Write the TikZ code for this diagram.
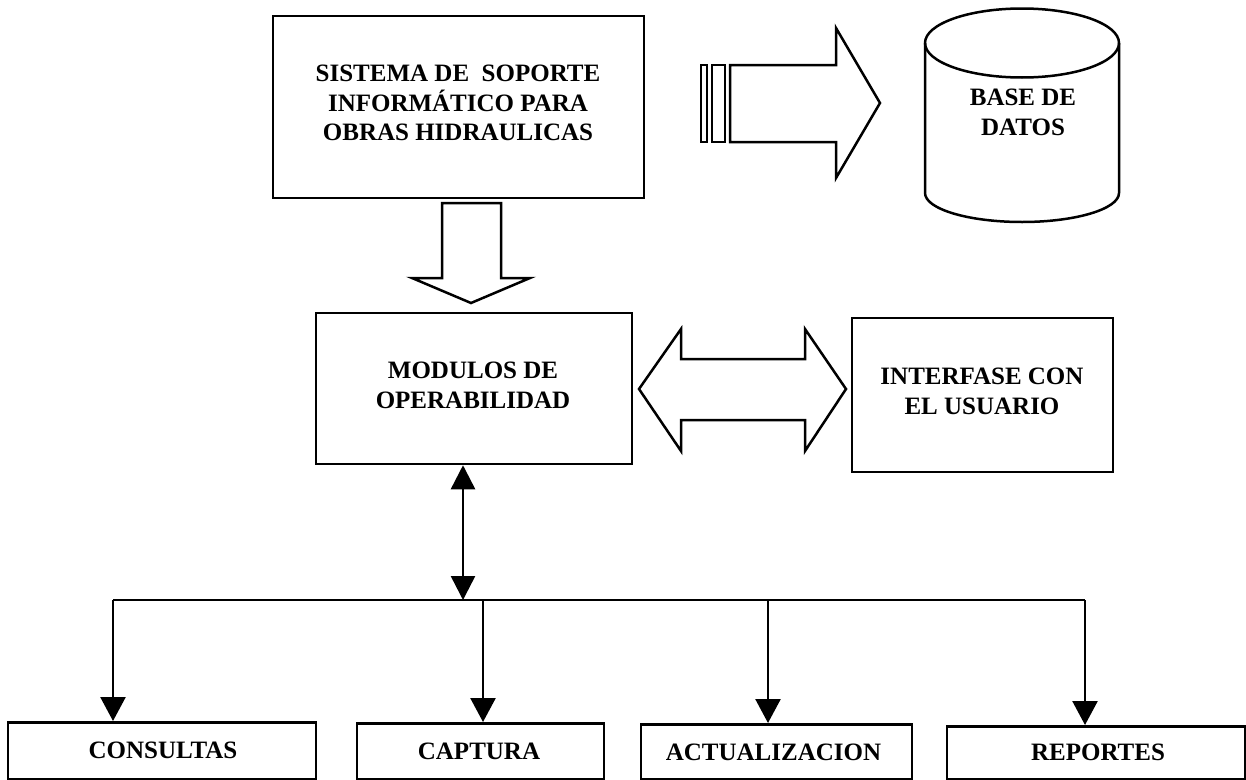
\documentclass[tikz,border=0pt]{standalone}
\usepackage{fontspec}
\setmainfont{Liberation Serif}
\usetikzlibrary{calc, arrows.meta}
\tikzset{
    box/.style={draw, line width=2.5pt, inner sep=0pt},
    hollow/.style={draw, line width=2.5pt, line join=miter},
    bar/.style={line width=2.5pt},
    link/.style={line width=2.5pt, -{Triangle[length=24pt,width=25pt]}},
    both/.style={line width=2.5pt, {Triangle[length=24pt,width=24pt]}-{Triangle[length=24pt,width=24pt]}},
    label/.style={align=center, font=\bfseries\fontsize{25}{29.7}\selectfont}
}
\begin{document}
\begin{tikzpicture}[x=1pt,y=-1pt]
    \useasboundingbox (0,0) rectangle (1246,779);

    % upper boxes
    \node[box, minimum width=371pt, minimum height=182pt] (sistema) at (458.5,107) {};
    \node[label] (sistematxt) at (458,103) {SISTEMA DE\ \ SOPORTE\\INFORMÁTICO PARA\\OBRAS HIDRAULICAS};
    \node[box, minimum width=316pt, minimum height=151pt] (modulos) at (474,388.5) {};
    \node[label] (modulostxt) at (473,385) {MODULOS DE\\OPERABILIDAD};
    \node[box, minimum width=261pt, minimum height=154pt] (interfase) at (982.5,395) {};
    \node[label] (interfasetxt) at (982,391) {INTERFASE CON\\EL USUARIO};

    % lower boxes
    \node[box, minimum width=308pt, minimum height=57pt, anchor=north] (consultas) at (162,721) {};
    \node[box, minimum width=247pt, minimum height=56pt, anchor=north] (captura) at (480.5,722) {};
    \node[box, minimum width=271pt, minimum height=55pt, anchor=north] (actualizacion) at (776.5,723) {};
    \node[box, minimum width=298pt, minimum height=53pt, anchor=north] (reportes) at (1096,725) {};
    \node[label] (consultastxt) at (163,750) {CONSULTAS};
    \node[label] (capturatxt) at (479,751) {CAPTURA};
    \node[label] (actualizaciontxt) at (773.5,752) {ACTUALIZACION};
    \node[label] (reportestxt) at (1098,752) {REPORTES};

    % cylinder
    \coordinate (cl) at (925,43);
    \coordinate (cr) at (1119,43);
    \draw[bar] (cl) arc[start angle=180, end angle=-180, x radius=97pt, y radius=34.5pt];
    \draw[bar] (cl) -- (925,193) arc[start angle=180, end angle=360, x radius=97pt, y radius=29pt] -- (cr);
    \node[label] (base) at (1023,112.5) {BASE DE\\DATOS};

    % big arrow to the data base
    \draw[hollow] (701,65) rectangle (707,142);
    \draw[hollow] (712,65) rectangle (725,142);
    \draw[hollow] (730,65) -- (836,65) -- (836,28) -- (880,103) -- (836,178) -- (836,142) -- (730,142) -- cycle;

    % big arrow down
    \draw[hollow] (442,203) -- (501,203) -- (501,278) -- (530,278) -- (471,303) -- (412,278) -- (442,278) -- cycle;

    % double arrow
    \draw[hollow] (639,389) -- (681,329) -- (681,359) -- (805,359) -- (805,329) -- (846,389)
        -- (805,451) -- (805,420) -- (681,420) -- (681,451) -- cycle;

    % bus
    \coordinate (bus) at (463,600);
    \coordinate (busl) at (113,600);
    \coordinate (busc) at (483,600);
    \coordinate (busa) at (768,600);
    \coordinate (busr) at (1085,600);
    \draw[both] (modulos.south -| bus) -- (bus);
    \draw[bar] (busl) -- (busr);
    \draw[link] (busl) -- (consultas.north -| busl);
    \draw[link] (busc) -- (captura.north -| busc);
    \draw[link] (busa) -- (actualizacion.north -| busa);
    \draw[link] (busr) -- (reportes.north -| busr);
\end{tikzpicture}
\end{document}
